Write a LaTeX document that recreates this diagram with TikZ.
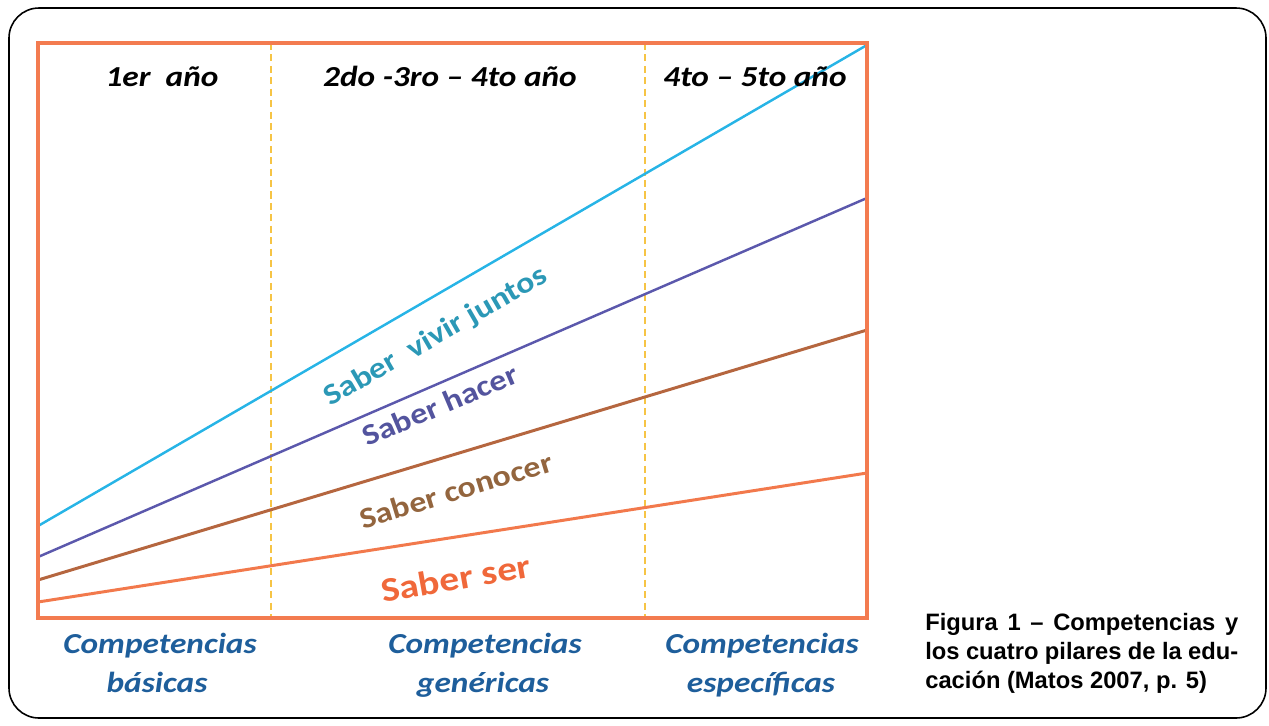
\documentclass[tikz,border=0pt]{standalone}
\usepackage{fontspec}
\usepackage{tikz}
\usetikzlibrary{positioning}
\setmainfont{Liberation Sans}
\newfontfamily\calibrifont[FakeStretch=1.15]{Carlito}

\definecolor{frameorange}{HTML}{F37B50}
\definecolor{dashyellow}{HTML}{F6C445}
\definecolor{linecyan}{HTML}{27B4E6}
\definecolor{linepurple}{HTML}{5B58AC}
\definecolor{linebrown}{HTML}{B5663F}
\definecolor{lineorange}{HTML}{F2794C}
\definecolor{txtteal}{HTML}{2B98B6}
\definecolor{txtpurple}{HTML}{53549E}
\definecolor{txtbrown}{HTML}{93653E}
\definecolor{txtorange}{HTML}{F0683A}
\definecolor{txtblue}{HTML}{1E5E9B}

\tikzset{
        x=0.02cm, y=-0.02cm, % pixel grid, y going down
        yearlbl/.style={font=\calibrifont\fontsize{16.5}{20}\selectfont\bfseries\itshape, anchor=base, inner sep=0pt},
        complbl/.style={font=\calibrifont\fontsize{16.5}{20}\selectfont\bfseries\itshape, text=txtblue, anchor=base, inner sep=0pt},
        pillar/.style={font=\calibrifont\fontsize{16.8}{20}\selectfont\bfseries, inner sep=0pt},
        divider/.style={dashyellow, line width=1.7pt, dash pattern=on 4pt off 2.5pt}
        }

\begin{document}
\begin{tikzpicture}
        \useasboundingbox (0,0) rectangle (1269,725);
        \draw[line width=0.9pt, rounded corners=0.6cm] (9,8) rectangle (1266,718);

        % the chart
        \draw[divider] (271,43) -- (271,618);
        \draw[divider] (645,43) -- (645,618);
        \draw[linecyan, line width=1.4pt] (38,526) -- (867,45);
        \draw[linepurple, line width=1.4pt] (38,557) -- (867,198);
        \draw[linebrown, line width=1.7pt] (38,580) -- (867,330);
        \draw[lineorange, line width=1.7pt] (38,602) -- (867,473);
        \draw[frameorange, line width=2.3pt] (38,43) rectangle (867,618);

        \node[yearlbl](y1) at (162,86){1er\ \ año};
        \node[yearlbl](y2) at (450,86){2do -3ro – 4to año};
        \node[yearlbl](y3) at (755,86){4to – 5to año};

        \node[pillar, text=txtteal, rotate=30](vivir) at (436,337){Saber\ \ vivir juntos};
        \node[pillar, text=txtpurple, rotate=23](hacer) at (440,405){Saber hacer};
        \node[pillar, text=txtbrown, rotate=17](conocer) at (456,490){Saber conocer};
        \node[pillar, text=txtorange, rotate=10, font=\calibrifont\fontsize{19.5}{22}\selectfont\bfseries](ser) at (456,578){Saber ser};

        \node[complbl](cb) at (160,653){Competencias};
        \node[complbl](cb2) at (157,692){básicas};
        \node[complbl](cg) at (485,653){Competencias};
        \node[complbl](cg2) at (483,692){genéricas};
        \node[complbl](ce) at (762,653){Competencias};
        \node[complbl](ce2) at (761,692){específicas};

        % caption
        \node[anchor=north west, inner sep=0pt, align=left,
              font=\fontsize{13.5}{16.4}\selectfont\bfseries](caption) at (925,613){%
              \makebox[6.26cm][s]{Figura 1 – Competencias y}\\
              \makebox[6.26cm][s]{los cuatro pilares de la edu-}\\
              cación (Matos 2007, p. 5)};
\end{tikzpicture}
\end{document}
